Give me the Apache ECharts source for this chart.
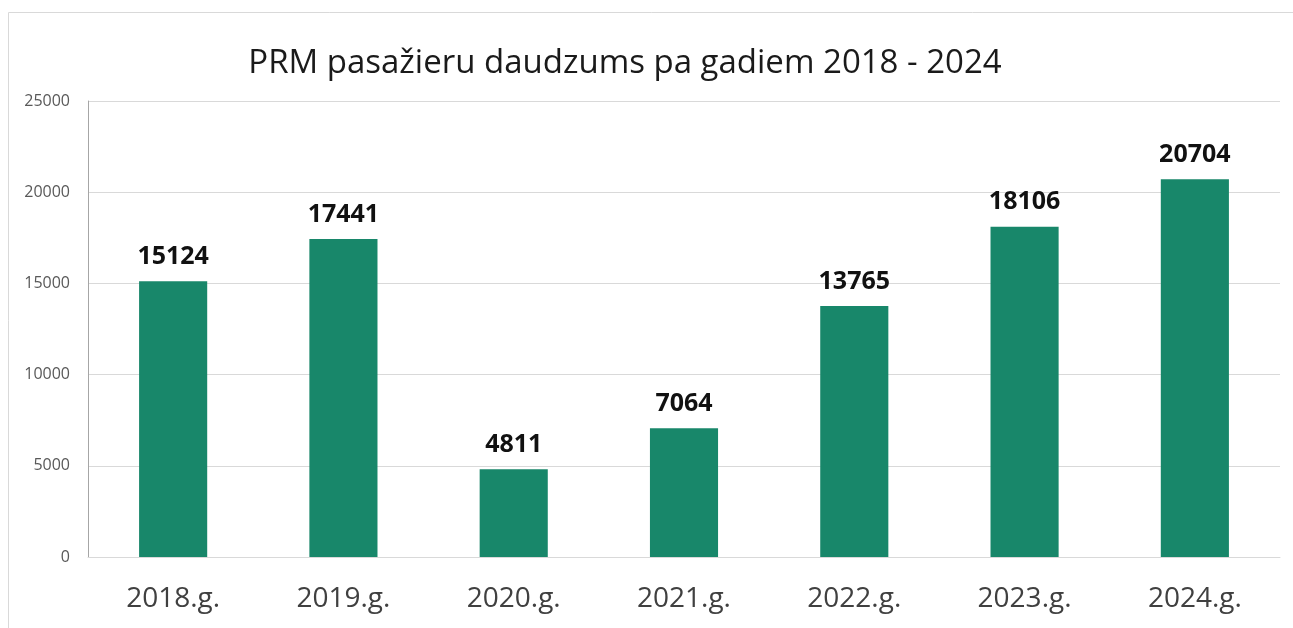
<!DOCTYPE html>
<html>
<head>
<meta charset="utf-8">
<script src="https://cdn.jsdelivr.net/npm/echarts@6/dist/echarts.min.js"></script>
<style>
  html, body { margin: 0; padding: 0; background: #fff; }
  #chart { width: 1293px; height: 628px; }
</style>
</head>
<body>
<div id="chart"></div>
<script>
// data
const years = ['2018.g.', '2019.g.', '2020.g.', '2021.g.', '2022.g.', '2023.g.', '2024.g.'];
const passengers = [15124, 17441, 4811, 7064, 13765, 18106, 20704];

const chart = echarts.init(document.getElementById('chart'));

const font = '"Open Sans", "Noto Sans", sans-serif';

const option = {
  animation: false,
  title: {
    text: 'PRM pasažieru daudzums pa gadiem 2018 - 2024',
    left: 620,
    top: 42,
    textAlign: 'center',
    textStyle: { fontFamily: font, fontSize: 33, fontWeight: 'normal', color: '#1a1a1a' }
  },
  graphic: [{
    type: 'rect',
    shape: { x: 8.5, y: 12.5, width: 1300, height: 640 },
    style: { fill: 'none', stroke: '#d9d9d9', lineWidth: 1 },
    silent: true
  }],
  grid: { left: 88, right: 13, top: 101, bottom: 71 },
  xAxis: {
    type: 'category',
    data: years,
    axisTick: { show: false },
    axisLine: { lineStyle: { color: '#d9d9d9', width: 1 } },
    axisLabel: { fontFamily: font, fontSize: 28, color: '#404040', margin: 28 }
  },
  yAxis: {
    type: 'value',
    min: 0,
    max: 25000,
    interval: 5000,
    axisLine: { show: true, lineStyle: { color: '#a6a6a6' } },
    axisTick: { show: false },
    splitLine: { lineStyle: { color: '#d9d9d9' } },
    axisLabel: { fontFamily: font, fontSize: 16, color: '#595959', margin: 18, formatter: v => String(v) }
  },
  series: [{
    type: 'bar',
    data: passengers,
    barWidth: '40%',
    itemStyle: { color: '#18876a' },
    label: {
      show: true,
      position: 'top',
      distance: 12,
      fontFamily: font,
      fontSize: 25,
      fontWeight: 'bold',
      color: '#111'
    }
  }]
};

chart.setOption(option);
</script>
</body>
</html>
